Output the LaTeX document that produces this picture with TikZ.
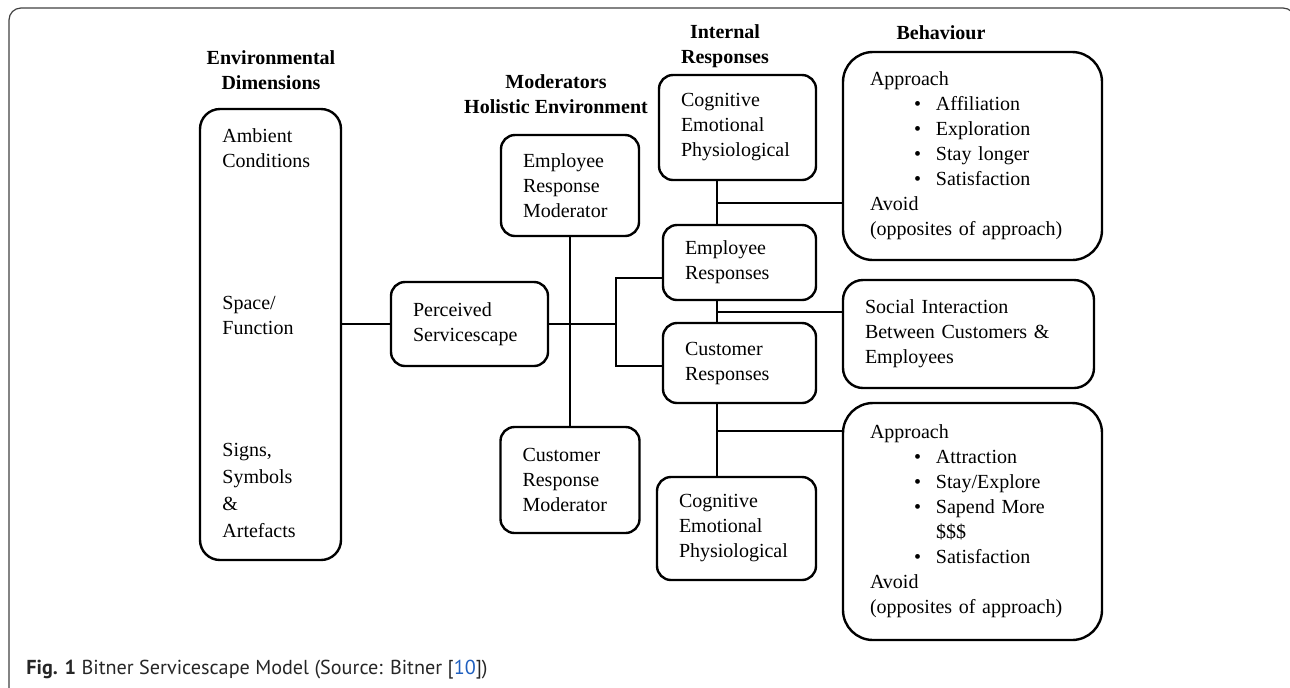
\documentclass[tikz,border=0pt]{standalone}
\usepackage{fontspec}
\setmainfont{Liberation Serif}
\newfontfamily\capfont{PT Sans}
\usepackage{tikz}
\definecolor{refblue}{HTML}{1F5FBF}
\newcommand{\bitem}{\hspace*{22pt}\makebox[11pt][l]{\textbullet}}

\begin{document}
\begin{tikzpicture}[x=0.5pt,y=-0.5pt,
	box/.style={draw,line width=1.2pt,rounded corners=7pt,inner xsep=11pt,inner ysep=0pt,align=left,font=\fontsize{10}{12.5}\selectfont},
	title/.style={align=center,font=\fontsize{10}{12.5}\selectfont\bfseries},
	txt/.style={align=left,inner sep=0pt,anchor=west,font=\fontsize{10}{12.5}\selectfont},
	wire/.style={line width=0.7pt}]
	\useasboundingbox (0,0) rectangle (1290,687);
	\draw[black!75,line width=0.6pt,rounded corners=6pt] (9,700) -- (9,8) -- (1295,8) -- (1295,700);
	
	\node[title] (t1) at (271,70.5) {Environmental\\Dimensions};
	\node[title] (t2) at (556,94.5) {Moderators\\Holistic Environment};
	\node[title] (t3) at (725,46.5) {Internal\\Responses};
	\node[title] (t4) at (941,33) {Behaviour};
	
	\node[box,rounded corners=10pt,minimum width=70.5pt,minimum height=225.5pt] (env) at (270.5,334.5) {};
	\node[txt] (amb) at (222,148) {Ambient\\Conditions};
	\node[txt] (spc) at (222,315) {Space/\\Function};
	\node[txt,font=\fontsize{10}{13.5}\selectfont] (sgn) at (222,490) {Signs,\\Symbols\\\&\\Artefacts};
	
	\node[box,text width=56.5pt,minimum height=42pt] (per) at (469.5,324) {Perceived\\Servicescape};
	\node[box,text width=47pt,minimum height=50.5pt] (erm) at (570,185.5) {Employee\\Response\\Moderator};
	\node[box,text width=47.5pt,minimum height=53pt] (crm) at (570,480) {Customer\\Response\\Moderator};
	
	\node[box,text width=56.5pt,minimum height=52.5pt] (cog1) at (737.5,127.5) {Cognitive\\Emotional\\Physiological};
	\node[box,text width=54.5pt,minimum height=37.5pt] (er) at (739.5,262.5) {Employee\\Responses};
	\node[box,text width=54.5pt,minimum height=40pt] (cr) at (739.5,363) {Customer\\Responses};
	\node[box,text width=57.5pt,minimum height=51.5pt] (cog2) at (736.5,528.5) {Cognitive\\Emotional\\Physiological};
	
	\node[box,rounded corners=15pt,inner xsep=13.5pt,text width=102.5pt,minimum height=104pt] (beh1) at (972.5,156)
	{Approach\\\bitem Affiliation\\\bitem Exploration\\\bitem Stay longer\\\bitem Satisfaction\\Avoid\\(opposites of approach)};
	\node[box,rounded corners=10pt,text width=103.5pt,minimum height=54pt] (soc) at (968.5,334)
	{Social Interaction\\Between Customers \&\\Employees};
	\node[box,rounded corners=15pt,inner xsep=13.5pt,text width=102.5pt,minimum height=118.5pt] (beh2) at (972.5,521.5)
	{Approach\\\bitem Attraction\\\bitem Stay/Explore\\\bitem Sapend More\\\hspace*{33pt}\$\$\$\\\bitem Satisfaction\\Avoid\\(opposites of approach)};
	
	\coordinate (brk) at (616,324);
	\coordinate (brk1) at (616,278);
	\coordinate (brk2) at (616,366);
	\coordinate (spine) at (717,0);
	\coordinate (j1) at (717,203);
	\coordinate (j2) at (717,312);
	\coordinate (j3) at (717,431);
	
	\draw[wire] (env.east |- per.west) -- (per.west);
	\draw[wire] (erm.south) -- (crm.north);
	\draw[wire] (per.east) -- (brk);
	\draw[wire] (er.west |- brk1) -- (brk1) -- (brk2) -- (cr.west |- brk2);
	\draw[wire] (cog1.south -| spine) -- (er.north -| spine);
	\draw[wire] (er.south -| spine) -- (cr.north -| spine);
	\draw[wire] (cr.south -| spine) -- (cog2.north -| spine);
	\draw[wire] (j1) -- (j1 -| beh1.west);
	\draw[wire] (j2) -- (j2 -| soc.west);
	\draw[wire] (j3) -- (j3 -| beh2.west);
	
	\node[anchor=west,inner sep=0pt,text=black!85,font=\capfont\fontsize{10.1}{12}\selectfont] (cap) at (26,670)
	{\textbf{Fig. 1} Bitner Servicescape Model (Source: Bitner [\textcolor{refblue}{10}])};
\end{tikzpicture}
\end{document}
